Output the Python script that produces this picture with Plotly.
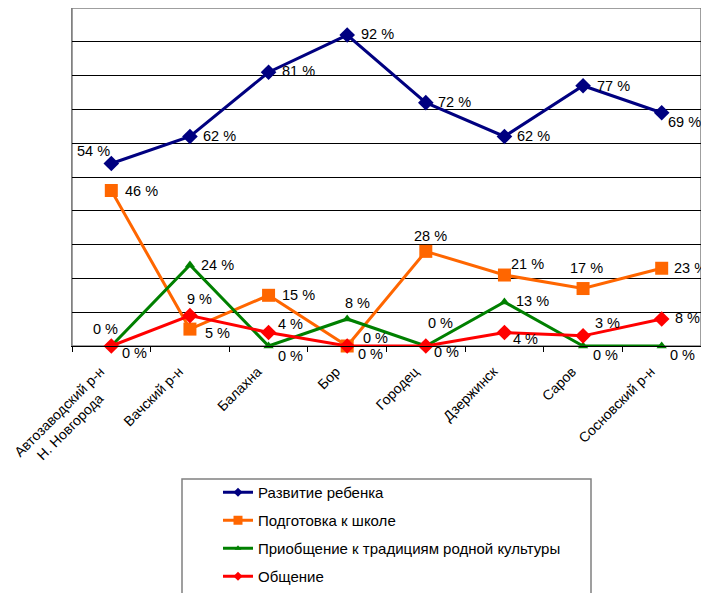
import plotly.graph_objects as go

NB = "\u00a0"
categories = ["Автозаводский р-н" + NB * 4 + "<br>Н. Новгорода" + NB * 9,
              "Вачский р-н", "Балахна", "Бор",
              "Городец", "Дзержинск", "Саров", "Сосновский р-н"]
series_names = ["Развитие ребенка", "Подготовка к школе",
                "Приобщение к традициям родной культуры", "Общение"]
razvitie = [54, 62, 81, 92, 72, 62, 77, 69]
podgotovka = [46, 5, 15, 0, 28, 21, 17, 23]
priobshchenie = [0, 24, 0, 8, 0, 13, 0, 0]
obshchenie = [0, 9, 4, 0, 0, 4, 3, 8]
tick_text = [categories[0]] + [c + NB * 4 for c in categories[1:]]

colors = ["#000080", "#FF6600", "#008000", "#FF0000"]
symbols = ["diamond", "square", "triangle-up", "diamond"]
msizes = [12, 13, 9, 12]
lsizes = [7, 9, 6, 7]
# label offsets (px, right / down) from each point
offsets = [
    [(-18, -12), (30, 0), (30, -1), (30, -1), (29, -1), (29, 0), (30, 0), (23, 9)],
    [(30, 0), (28, 4), (30, 0), (28, -8), (5, -15), (23, -11), (3, -21), (29, 0)],
    [(-6, -17), (28, 0), (22, 10), (10, -16), (15, -23), (28, -1), (22, 9), (21, 9)],
    [(23, 7), (10, -17), (22, -8), (23, 8), (21, 6), (21, 7), (24, -13), (26, -1)],
]
FONT = "Liberation Sans, Arial"

fig = go.Figure()
annotations = []
all_vals = [razvitie, podgotovka, priobshchenie, obshchenie]
for i, (name, vals) in enumerate(zip(series_names, all_vals)):
    fig.add_trace(go.Scatter(
        x=categories, y=vals, name=name, mode="lines+markers",
        line=dict(color=colors[i], width=3),
        marker=dict(symbol=symbols[i], size=msizes[i], color=colors[i]),
        showlegend=False, cliponaxis=False,
    ))
    for c, v, (dx, dy) in zip(categories, vals, offsets[i]):
        annotations.append(dict(
            x=c, y=v, xref="x", yref="y", text=f"{v}{NB}%", showarrow=False,
            xanchor="center", yanchor="middle", xshift=dx, yshift=-dy,
            font=dict(family=FONT, size=14.5, color="black"),
        ))
for i, name in enumerate(series_names):
    fig.add_trace(go.Scatter(
        x=[None], y=[None], name=name, mode="lines+markers",
        line=dict(color=colors[i], width=3),
        marker=dict(symbol=symbols[i], size=lsizes[i], color=colors[i]),
        legendgroup=str(i), showlegend=True,
    ))

# page body has an 8px offset; figure coordinates = window - 8
PH = 338
H = 620
fig.update_layout(
    width=701, height=H,
    margin=dict(l=64, r=8, t=0, b=H - PH),
    paper_bgcolor="white", plot_bgcolor="white",
    font=dict(family=FONT, size=12, color="black"),
    showlegend=True,
    legend=dict(x=(218 - 72) / 629, y=(346 - 476) / PH, xanchor="left", yanchor="top",
                bgcolor="rgba(0,0,0,0)", borderwidth=0, tracegroupgap=5.5,
                font=dict(size=15, family=FONT), traceorder="grouped"),
    xaxis=dict(type="category", tickson="boundaries", ticks="outside", ticklen=5,
               tickcolor="black", showline=True, linecolor="black", linewidth=1,
               showgrid=False, tickangle=-45, tickfont=dict(size=14),
               tickmode="array", tickvals=categories, ticktext=tick_text,
               ticklabelstandoff=0, range=[-0.5, 7.5], automargin=False),
    yaxis=dict(range=[0, 100], dtick=10, showticklabels=False, showgrid=True,
               gridcolor="black", gridwidth=1, zeroline=False, showline=True,
               linecolor="#808080", ticks="", automargin=False),
    annotations=annotations,
    shapes=[
        dict(type="rect", xref="paper", yref="paper", x0=0, x1=1, y0=0, y1=1,
             line=dict(color="#808080", width=1.5), layer="below"),
        dict(type="rect", xref="paper", yref="paper",
             x0=(182 - 72) / 629, x1=(591 - 72) / 629,
             y0=(346 - 479) / PH, y1=(346 - 660) / PH,
             line=dict(color="#808080", width=1.5)),
    ],
)
fig.write_html("out.html")
